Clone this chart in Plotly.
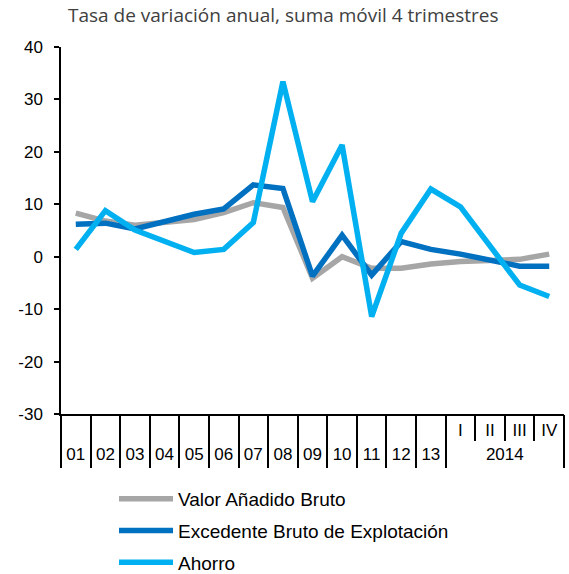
import plotly.graph_objects as go

categories = ["01", "02", "03", "04", "05", "06", "07", "08", "09", "10", "11", "12", "13",
              "I", "II", "III", "IV"]
year_labels = ["01", "02", "03", "04", "05", "06", "07", "08", "09", "10", "11", "12", "13", "2014"]
quarter_labels = ["I", "II", "III", "IV"]

vab = [8.3, 6.8, 6.0, 6.5, 7.1, 8.4, 10.3, 9.4, -4.1, 0.0, -2.2, -2.2, -1.4, -0.9, -0.6, -0.5, 0.5]
ebe = [6.2, 6.4, 5.3, 6.8, 8.1, 9.1, 13.7, 13.0, -3.7, 4.1, -3.5, 2.9, 1.4, 0.5, -0.6, -1.8, -1.8]
ahorro = [1.4, 8.8, 5.1, 2.9, 0.8, 1.4, 6.5, 33.4, 10.5, 21.3, -11.4, 4.5, 12.9, 9.5, 1.9, -5.4, -7.6]

yticks = [-30, -20, -10, 0, 10, 20, 30, 40]

names = ["Valor Añadido Bruto", "Excedente Bruto de Explotación", "Ahorro"]
colors = ["#A6A6A6", "#0070C0", "#00B0F0"]
series = [vab, ebe, ahorro]

n = len(categories)
nq = len(quarter_labels)
ny = n - nq  # single-year categories
rng = [-0.5, n - 0.5]

W, H = 569, 574
ML, MR, MT, MB = 61, 5, 47, 160
plot_h = H - MT - MB

fig = go.Figure()
for name, col, vals in zip(names, colors, series):
    fig.add_trace(go.Scatter(
        x=categories, y=vals, mode="lines", name=name,
        legendgroup=name,
        line=dict(color=col, width=5.5),
    ))

# label / separator positions on helper (linear) axes, derived from category indices
year_pos = list(range(ny)) + [ny + (nq - 1) / 2]
quarter_pos = list(range(ny, n))
long_sep = [i - 0.5 for i in range(ny + 1)] + [n - 0.5 - 1e-6]

# empty helper traces so that the helper axes get drawn
for ax in ["x2", "x3", "x4"]:
    fig.add_trace(go.Scatter(x=[0], y=[None], xaxis=ax, yaxis="y", mode="lines",
                             showlegend=False, hoverinfo="skip"))

axis_common = dict(showgrid=False, zeroline=False, range=rng, fixedrange=True,
                   automargin=False)

fig.update_layout(
    width=W, height=H,
    margin=dict(l=ML, r=MR, t=MT, b=MB, autoexpand=False),
    plot_bgcolor="white", paper_bgcolor="white",
    font=dict(family="Arial", size=16, color="black"),
    title=dict(text="Tasa de variación anual, suma móvil 4 trimestres",
               x=68/W, xanchor="left", y=1-15.5/H, yanchor="middle",
               pad=dict(l=0, r=0, t=0, b=0), automargin=False,
               font=dict(family="Open Sans", size=19, color="#404040")),
    showlegend=True,
    legend=dict(orientation="v", x=(114-ML)/(W-ML-MR), xanchor="left",
                y=-(MB + 8)/plot_h, yanchor="bottom",
                tracegroupgap=4, font=dict(size=19, family="Arial"), itemwidth=54),
    xaxis=dict(type="category", **axis_common, showline=True, linecolor="black", linewidth=1.5,
               ticks="outside", tickson="boundaries", ticklen=25, tickcolor="black",
               tickwidth=1.5, showticklabels=False),
    xaxis2=dict(overlaying="x", anchor="y", type="linear", **axis_common,
                tickvals=long_sep, showticklabels=False,
                ticks="outside", ticklen=53, tickwidth=1.5, tickcolor="black",
                showline=False),
    xaxis3=dict(overlaying="x", anchor="y", type="linear", **axis_common,
                tickvals=year_pos, ticktext=year_labels, ticks="",
                ticklabelstandoff=28, tickfont=dict(size=17), showline=False),
    xaxis4=dict(overlaying="x", anchor="y", type="linear", **axis_common,
                tickvals=quarter_pos, ticktext=quarter_labels, ticks="",
                ticklabelstandoff=4, tickfont=dict(size=17), showline=False),
    yaxis=dict(range=[-30, 40], tickvals=yticks, ticktext=[str(v) for v in yticks],
               showline=True, linecolor="black", linewidth=1.5,
               ticks="outside", ticklen=5, tickcolor="black", tickwidth=1.5,
               showgrid=False, zeroline=False, tickfont=dict(size=17),
               ticklabelstandoff=8, fixedrange=True, automargin=False),
)

fig.write_html("out.html",
               config={"displayModeBar": False},
               post_script="document.body.style.margin='0';"
                           "document.body.style.overflow='hidden';")
